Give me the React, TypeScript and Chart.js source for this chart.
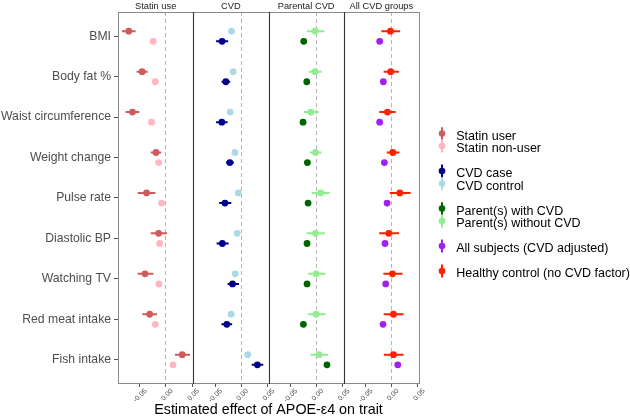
import React, { useEffect, useRef } from 'react';
import { Chart, registerables } from 'chart.js';

Chart.register(...registerables);

const FONT = '"Liberation Sans", Arial, Helvetica, sans-serif';

// ---------- data ----------
const traits = [
  'BMI',
  'Body fat %',
  'Waist circumference',
  'Weight change',
  'Pulse rate',
  'Diastolic BP',
  'Watching TV',
  'Red meat intake',
  'Fish intake',
];
const panelTitles = ['Statin use', 'CVD', 'Parental CVD', 'All CVD groups'];
const xTickValues = [-0.05, 0, 0.05];
const xMin = -0.0915;
const xMax = 0.052;

// Statin use panel
const statinUserEst = [-0.071, -0.0455, -0.064, -0.019, -0.037, -0.014, -0.04, -0.031, 0.031];
const statinUserLo = [-0.084, -0.056, -0.077, -0.029, -0.054, -0.029, -0.054, -0.045, 0.017];
const statinUserHi = [-0.058, -0.035, -0.051, -0.009, -0.02, 0.002, -0.024, -0.017, 0.046];
const statinNonUserEst = [-0.0244, -0.0205, -0.0276, -0.014, -0.0083, -0.012, -0.0135, -0.0205, 0.0135];
const statinNonUserLo = [-0.029, -0.025, -0.032, -0.018, -0.013, -0.016, -0.018, -0.025, 0.009];
const statinNonUserHi = [-0.02, -0.016, -0.023, -0.01, -0.004, -0.008, -0.009, -0.016, 0.018];

// CVD panel
const cvdCaseEst = [-0.0365, -0.0294, -0.037, -0.0217, -0.031, -0.036, -0.0166, -0.0275, 0.0308];
const cvdCaseLo = [-0.048, -0.0375, -0.048, -0.029, -0.042, -0.047, -0.026, -0.0377, 0.02];
const cvdCaseHi = [-0.025, -0.021, -0.026, -0.014, -0.019, -0.024, -0.0044, -0.0173, 0.042];
const cvdControlEst = [-0.0185, -0.0154, -0.021, -0.012, -0.0058, -0.0077, -0.0115, -0.0192, 0.0123];
const cvdControlLo = [-0.021, -0.018, -0.024, -0.015, -0.009, -0.011, -0.015, -0.022, 0.009];
const cvdControlHi = [-0.016, -0.013, -0.018, -0.009, -0.003, -0.005, -0.008, -0.016, 0.015];

// Parental CVD panel
const parentWithEst = [-0.0243, -0.0185, -0.0256, -0.0173, -0.016, -0.018, -0.018, -0.025, 0.02];
const parentWithLo = [-0.027, -0.021, -0.028, -0.02, -0.019, -0.021, -0.021, -0.028, 0.017];
const parentWithHi = [-0.022, -0.016, -0.023, -0.015, -0.013, -0.015, -0.015, -0.022, 0.023];
const parentWithoutEst = [-0.0025, -0.003, -0.0108, -0.002, 0.0077, -0.002, -0.0006, -0.0006, 0.005];
const parentWithoutLo = [-0.018, -0.015, -0.024, -0.0127, -0.009, -0.019, -0.016, -0.016, -0.011];
const parentWithoutHi = [0.015, 0.01, 0.004, 0.0096, 0.025, 0.016, 0.017, 0.017, 0.022];

// All CVD groups panel
const allSubjectsEst = [-0.023, -0.016, -0.023, -0.014, -0.0089, -0.0128, -0.0115, -0.0166, 0.0115];
const allSubjectsLo = [-0.025, -0.018, -0.025, -0.016, -0.011, -0.015, -0.014, -0.019, 0.009];
const allSubjectsHi = [-0.021, -0.014, -0.021, -0.012, -0.007, -0.011, -0.009, -0.014, 0.014];
const healthyEst = [-0.0025, -0.002, -0.0083, 0.002, 0.0154, -0.0058, 0.0013, 0.0033, 0.0033];
const healthyLo = [-0.0198, -0.0154, -0.0237, -0.0096, -0.0038, -0.024, -0.016, -0.0154, -0.015];
const healthyHi = [0.016, 0.0135, 0.0077, 0.0148, 0.036, 0.014, 0.0206, 0.0225, 0.0225];

type Group = {
  label: string;
  panel: number;
  color: string;
  est: number[];
  lo: number[];
  hi: number[];
  upper: boolean;
};

const groups: Group[] = [
  { label: 'Statin user', panel: 0, color: '#CD5C5C', est: statinUserEst, lo: statinUserLo, hi: statinUserHi, upper: true },
  { label: 'Statin non-user', panel: 0, color: '#FFB6C1', est: statinNonUserEst, lo: statinNonUserLo, hi: statinNonUserHi, upper: false },
  { label: 'CVD case', panel: 1, color: '#00008B', est: cvdCaseEst, lo: cvdCaseLo, hi: cvdCaseHi, upper: false },
  { label: 'CVD control', panel: 1, color: '#ADD8E6', est: cvdControlEst, lo: cvdControlLo, hi: cvdControlHi, upper: true },
  { label: 'Parent(s) with CVD', panel: 2, color: '#006400', est: parentWithEst, lo: parentWithLo, hi: parentWithHi, upper: false },
  { label: 'Parent(s) without CVD', panel: 2, color: '#90EE90', est: parentWithoutEst, lo: parentWithoutLo, hi: parentWithoutHi, upper: true },
  { label: 'All subjects (CVD adjusted)', panel: 3, color: '#A020F0', est: allSubjectsEst, lo: allSubjectsLo, hi: allSubjectsHi, upper: false },
  { label: 'Healthy control (no CVD factor)', panel: 3, color: '#FF2000', est: healthyEst, lo: healthyLo, hi: healthyHi, upper: true },
];

// legend order, null = spacer
const legendOrder: (number | null)[] = [0, 1, null, 2, 3, null, 4, 5, null, 6, null, 7, null];

const DODGE = 0.125;

function makeSymbol(color: string): HTMLCanvasElement {
  const c = document.createElement('canvas');
  c.width = 8;
  c.height = 20;
  const g = c.getContext('2d')!;
  g.strokeStyle = color;
  g.lineWidth = 2;
  g.beginPath();
  g.moveTo(4, 0.5);
  g.lineTo(4, 13.5);
  g.stroke();
  g.fillStyle = color;
  g.beginPath();
  g.arc(4, 7, 3.3, 0, Math.PI * 2);
  g.fill();
  return c;
}

const separatorPlugin = {
  id: 'panelSeparators',
  afterDatasetsDraw(chart: any) {
    const { ctx, chartArea } = chart;
    ctx.save();
    ctx.strokeStyle = '#333333';
    ctx.lineWidth = 1.1;
    for (let k = 1; k < panelTitles.length; k++) {
      const s = chart.scales['x' + k];
      if (!s) continue;
      const x = Math.round(s.left) + 0.5;
      ctx.beginPath();
      ctx.moveTo(x, chartArea.top);
      ctx.lineTo(x, chartArea.bottom);
      ctx.stroke();
    }
    ctx.restore();
  },
};

export default function App() {
  const ref = useRef<HTMLCanvasElement>(null);

  useEffect(() => {
    const canvas = ref.current;
    if (!canvas) return;
    Chart.defaults.font.family = FONT;

    const datasets: any[] = [];
    groups.forEach((g) => {
      const ys = traits.map((_, i) => i + 1 + (g.upper ? -DODGE : DODGE));
      datasets.push({
        type: 'scatter',
        label: g.label,
        xAxisID: 'x' + g.panel,
        yAxisID: 'y',
        data: g.est.map((v, i) => ({ x: v, y: ys[i] })),
        pointRadius: 3.4,
        pointHoverRadius: 3.4,
        pointBorderWidth: 0,
        backgroundColor: g.color,
        borderColor: g.color,
        order: 0,
      });
      datasets.push({
        type: 'bar',
        label: g.label + ' CI',
        indexAxis: 'y',
        xAxisID: 'x' + g.panel,
        yAxisID: 'y',
        data: g.lo.map((lo, i) => ({ y: ys[i], x: [lo, g.hi[i]] })),
        backgroundColor: g.color,
        borderWidth: 0,
        grouped: false,
        maxBarThickness: 2,
        order: 1,
      });
    });

    const scales: any = {
      y: {
        type: 'linear',
        axis: 'y',
        position: 'left',
        min: 0.4,
        max: 9.6,
        reverse: true,
        offset: false,
        afterBuildTicks: (s: any) => {
          s.ticks = traits.map((_, i) => ({ value: i + 1 }));
        },
        afterFit: (s: any) => {
          s.width = 118;
        },
        ticks: {
          autoSkip: false,
          callback: (v: any) => traits[Math.round(v) - 1] ?? '',
          color: '#4d4d4d',
          font: { size: 12.2, family: FONT },
          padding: 3,
        },
        grid: { display: true, drawOnChartArea: false, drawTicks: true, tickLength: 4, color: '#555555', offset: false },
        border: { display: true, color: '#8a8a8a', width: 1 },
      },
      yr: {
        type: 'linear',
        axis: 'y',
        position: 'right',
        min: 0,
        max: 1,
        ticks: { display: false },
        grid: { display: true, drawOnChartArea: false, drawTicks: false },
        border: { display: true, color: '#8a8a8a', width: 1 },
        afterFit: (s: any) => {
          s.width = 15;
        },
      },
    };

    panelTitles.forEach((_title, k) => {
      scales['x' + k] = {
        type: 'linear',
        axis: 'x',
        position: 'bottom',
        stack: 'bottomPanels',
        stackWeight: 1,
        min: xMin,
        max: xMax,
        afterBuildTicks: (s: any) => {
          s.ticks = xTickValues.map((value) => ({ value }));
        },
        afterFit: (s: any) => {
          s.height = 19;
        },
        ticks: {
          autoSkip: false,
          minRotation: 45,
          maxRotation: 45,
          padding: 0,
          labelOffset: 6,
          color: '#4d4d4d',
          font: { size: 7, family: FONT },
          callback: (v: any) => Number(v).toFixed(2),
        },
        grid: {
          display: true,
          drawOnChartArea: true,
          drawTicks: true,
          tickLength: 3,
          color: (ctx: any) => (ctx.tick && Math.abs(ctx.tick.value) < 1e-9 ? '#b5b5b5' : 'rgba(0,0,0,0)'),
          tickColor: '#555555',
          lineWidth: 1,
        },
        border: { display: true, color: '#8a8a8a', width: 1, dash: [4, 3] },
      };
    });

    // top strips: layout places top boxes in reverse insertion order, so insert last panel first
    for (let k = panelTitles.length - 1; k >= 0; k--) {
      scales['t' + k] = {
        type: 'linear',
        axis: 'x',
        position: 'top',
        stack: 'topStrips',
        stackWeight: 1,
        min: xMin,
        max: xMax,
        ticks: { display: false },
        grid: { display: true, drawOnChartArea: false, drawTicks: false },
        border: { display: true, color: '#8a8a8a', width: 1 },
        title: {
          display: true,
          text: panelTitles[k],
          color: '#1a1a1a',
          font: { size: 9.3, family: FONT },
          padding: { top: 0.5, bottom: 0 },
        },
        afterFit: (s: any) => {
          s.height = 12;
        },
      };
    }

    const symbols = groups.map((g) => makeSymbol(g.color));

    const chart = new Chart(canvas, {
      type: 'scatter',
      data: { datasets },
      options: {
        animation: false,
        responsive: false,
        events: [],
        layout: { padding: 0 },
        scales,
        plugins: {
          tooltip: { enabled: false },
          title: {
            display: true,
            text: 'Estimated effect of APOE-\u03b54 on trait',
            position: 'bottom',
            fullSize: false,
            color: '#000000',
            font: { size: 14.3, weight: 'normal', family: FONT, lineHeight: 1.05 },
            padding: 0,
          },
          legend: {
            display: true,
            position: 'right',
            align: 'center',
            maxWidth: 196,
            onClick: () => {},
            title: {
              display: true,
              text: '',
              font: { size: 4, lineHeight: 1 },
              padding: 0.5,
            },
            labels: {
              usePointStyle: true,
              pointStyleWidth: 16,
              padding: 0,
              color: '#000000',
              font: { size: 12.5, family: FONT },
              generateLabels: () =>
                legendOrder.map((gi) =>
                  gi === null
                    ? {
                        text: '',
                        pointStyle: 'circle',
                        fillStyle: 'rgba(0,0,0,0)',
                        strokeStyle: 'rgba(0,0,0,0)',
                        lineWidth: 0,
                        hidden: false,
                      }
                    : {
                        text: groups[gi].label,
                        pointStyle: symbols[gi],
                        fillStyle: groups[gi].color,
                        strokeStyle: groups[gi].color,
                        lineWidth: 0,
                        hidden: false,
                        fontColor: '#000000',
                      }
                ) as any,
            },
          },
        },
      } as any,
      plugins: [separatorPlugin],
    });

    return () => chart.destroy();
  }, []);

  return (
    <div style={{ position: 'absolute', left: 0, top: 0, width: 630, height: 418, background: '#ffffff' }}>
      <canvas ref={ref} width={630} height={418} style={{ display: 'block' }} />
    </div>
  );
}
